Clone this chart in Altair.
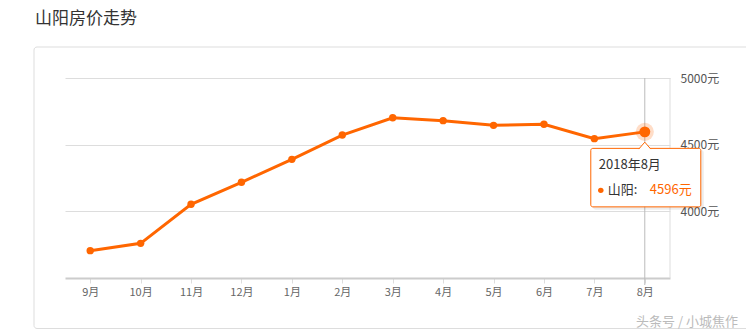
import altair as alt
import pandas as pd

months = ["9月", "10月", "11月", "12月", "1月", "2月", "3月", "4月", "5月", "6月", "7月", "8月"]
prices = [3705, 3760, 4053, 4218, 4390, 4572, 4702, 4680, 4645, 4653, 4545, 4596]
y_ticks = [4000, 4500, 5000]
title_text = "山阳房价走势"
series_name = "山阳:"
tip_date = "2018年8月"
tip_month = "8月"
watermark = "头条号 / 小城焦作"

df = pd.DataFrame({"month": months, "price": prices})
hl = df[df["month"] == tip_month].copy()
hl["label"] = hl["price"].astype(str) + "元"

ORANGE = "#ff6600"
FONT = "Noto Sans CJK SC"
W, H = 605, 200

x = alt.X(
    "month:N",
    sort=months,
    scale=alt.Scale(type="point", padding=0.5),
    axis=alt.Axis(
        title=None, labelAngle=0, domainColor="#cccccc", domainWidth=2,
        tickColor="#dddddd", tickSize=5, labelColor="#666666", labelFontSize=11,
        labelFont=FONT, labelPadding=3, grid=False,
    ),
)
y = alt.Y(
    "price:Q",
    scale=alt.Scale(domain=[3500, 5000], nice=False, zero=False),
    axis=alt.Axis(
        orient="right", values=y_ticks, labelExpr="datum.value + '元'", title=None,
        domain=False, ticks=False, grid=True, gridColor="#dddddd", labelColor="#555555",
        labelFontSize=12, labelFont=FONT, labelPadding=10, labelFlush=False,
    ),
)

one = alt.Data(values=[{"a": 1}])

card = alt.Chart(one).mark_rect(
    fill="transparent", stroke="#dddddd", strokeWidth=1, cornerRadius=3
).encode(x=alt.value(-31), x2=alt.value(720), y=alt.value(-31), y2=alt.value(250.5))

title = alt.Chart(one).mark_text(
    align="left", baseline="middle", fontSize=17, font=FONT, color="#333333"
).encode(x=alt.value(-30), y=alt.value(-59), text=alt.value(title_text))

wm = alt.Chart(one).mark_text(
    align="center", baseline="middle", fontSize=13, font=FONT, color="#bbbbbb"
).encode(x=alt.value(622), y=alt.value(244), text=alt.value(watermark))

right_border = alt.Chart(one).mark_rule(color="#dddddd", strokeWidth=1).encode(
    x=alt.value(W), y=alt.value(0), y2=alt.value(H)
)

base = alt.Chart(df)
hbase = alt.Chart(hl)

cross = hbase.mark_rule(color="#bbbbbb", strokeWidth=1).encode(
    x=x, y=alt.value(0), y2=alt.value(207)
)

line = base.mark_line(color=ORANGE, strokeWidth=3).encode(x=x, y=y)
pts = base.mark_circle(size=55, color=ORANGE, opacity=1).encode(x=x, y=y)

halo = hbase.mark_circle(size=330, color=ORANGE, opacity=0.22).encode(x=x, y=y)
big = hbase.mark_circle(size=120, color=ORANGE, opacity=1).encode(x=x, y=y)

shadow = hbase.mark_rect(
    fill="#000000", opacity=0.07, xOffset=-52, x2Offset=59, yOffset=18, y2Offset=78, cornerRadius=3
).encode(x=x, x2=alt.X2("month"), y=y, y2=alt.Y2("price"))

box = hbase.mark_rect(
    fill="white", stroke=ORANGE, strokeWidth=1, xOffset=-54, x2Offset=56,
    yOffset=16.5, y2Offset=75, cornerRadius=2,
).encode(x=x, x2=alt.X2("month"), y=y, y2=alt.Y2("price"))

arrow = hbase.mark_point(
    shape="M-1,0.6L0,-0.55L1,0.6", size=144, fill="white", stroke=ORANGE,
    strokeWidth=1, opacity=1, fillOpacity=1, yOffset=13.6,
).encode(x=x, y=y)

t_date = hbase.mark_text(
    align="left", baseline="middle", fontSize=13, font=FONT, color="#333333",
    dx=-46, dy=33.5,
).encode(x=x, y=y, text=alt.value(tip_date))

dot = hbase.mark_circle(size=30, color=ORANGE, opacity=1, xOffset=-44, yOffset=58.5).encode(x=x, y=y)

t_name = hbase.mark_text(
    align="left", baseline="middle", fontSize=13, font=FONT, color="#333333",
    dx=-37, dy=58.5,
).encode(x=x, y=y, text=alt.value(series_name))

t_val = hbase.mark_text(
    align="left", baseline="middle", fontSize=13, font=FONT, color=ORANGE,
    dx=5, dy=58.5,
).encode(x=x, y=y, text="label:N")

chart = alt.layer(
    card, title, wm, right_border, cross, line, pts, halo, big,
    shadow, box, arrow, t_date, dot, t_name, t_val,
).properties(
    width=W, height=H,
    autosize=alt.AutoSizeParams(type="none"),
    padding={"left": 65, "top": 78, "right": 76, "bottom": 55},
    background="white",
).configure_view(stroke=None)

chart.save("out.html", embed_options={"renderer": "svg", "actions": False})
